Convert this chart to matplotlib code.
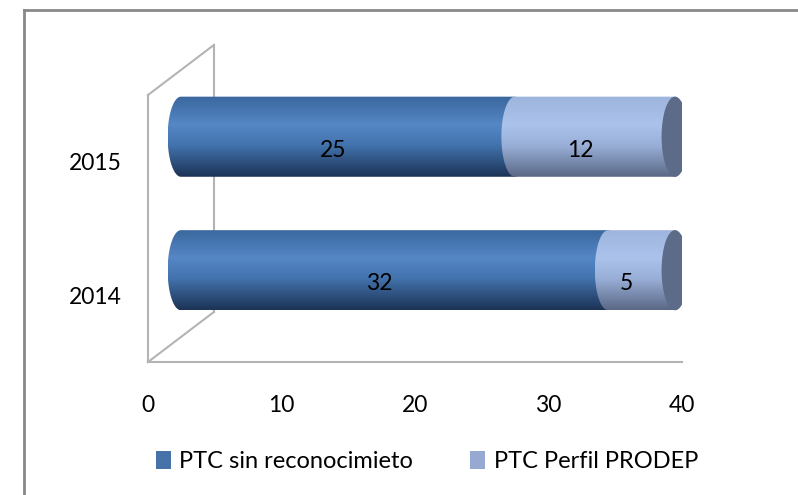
import numpy as np
import matplotlib
matplotlib.use("Agg")
import matplotlib.pyplot as plt
from matplotlib.patches import Polygon, Ellipse, Patch
from matplotlib.colors import LinearSegmentedColormap
from matplotlib.lines import Line2D

# data
years = ["2014", "2015"]
sin_reconocimiento = [32, 25]
perfil_prodep = [5, 12]
series_names = ["PTC sin reconocimieto", "PTC Perfil PRODEP"]
x_ticks = [0, 10, 20, 30, 40]

plt.rcParams['font.family'] = ['Lato', 'DejaVu Sans']

# 3d look settings (data units)
depth_x = 4.94
depth_y = 0.375
bar_h = 0.6
cap_w = 1.0
wall_color = "#b4b4b4"

dark_cmap = LinearSegmentedColormap.from_list(
    "dark", [(0, "#3a679d"), (0.35, "#5587c6"), (0.6, "#4374ae"), (1, "#1c3356")])
light_cmap = LinearSegmentedColormap.from_list(
    "light", [(0, "#9db4dd"), (0.35, "#abc3ec"), (0.62, "#98aed6"), (1, "#5a6886")])
cap_color = "#5c6b87"


def body(x0, x1, yc):
    t = np.linspace(np.pi / 2, 3 * np.pi / 2, 60)
    left = np.column_stack([x0 + cap_w * np.cos(t), yc + bar_h / 2 * np.sin(t)])
    t2 = np.linspace(-np.pi / 2, np.pi / 2, 60)
    right = np.column_stack([x1 + cap_w * np.cos(t2), yc + bar_h / 2 * np.sin(t2)])
    return Polygon(np.vstack([left, right]), closed=True, facecolor="none", edgecolor="none")


def cylinder(ax, x0, x1, yc, cmap, z):
    patch = body(x0, x1, yc)
    ax.add_patch(patch)
    grad = cmap(np.linspace(0, 1, 200))[:, None, :3]
    im = ax.imshow(grad, extent=(x0 - cap_w, x1 + cap_w, yc - bar_h / 2, yc + bar_h / 2),
                   origin="upper", aspect="auto", zorder=z, interpolation="bilinear")
    im.set_clip_path(patch)


fig = plt.figure(figsize=(7.98, 4.95), dpi=100)
ax = fig.add_axes([148 / 798, 133 / 495, 534 / 798, 267 / 495])

# walls
ax.plot([0, depth_x], [1.5, 1.5 + depth_y], color=wall_color, lw=1.5, clip_on=False, zorder=1)
ax.plot([depth_x, depth_x], [1.5 + depth_y, -0.5 + depth_y], color=wall_color, lw=1.5, clip_on=False, zorder=1)
ax.plot([0, depth_x], [-0.5, -0.5 + depth_y], color=wall_color, lw=1.5, clip_on=False, zorder=1)

ypos = np.arange(len(years))
mid_x = depth_x / 2
mid_y = depth_y / 2
for i, y in enumerate(ypos):
    yc = y + mid_y
    a = sin_reconocimiento[i]
    b = perfil_prodep[i]
    cylinder(ax, mid_x, mid_x + a, yc, dark_cmap, 3)
    cylinder(ax, mid_x + a, mid_x + a + b, yc, light_cmap, 4)
    ax.add_patch(Ellipse((mid_x + a + b, yc), 2 * cap_w, bar_h, facecolor=cap_color,
                         edgecolor="none", zorder=5))
    ax.text(a / 2 + 1.36, y + 0.085, str(a), ha="center", va="center", fontsize=16.5, zorder=6)
    ax.text(a + b / 2 + 1.36, y + 0.085, str(b), ha="center", va="center", fontsize=16.5, zorder=6)

ax.set_xlim(0, 40)
ax.set_ylim(-0.5, 1.5)
ax.set_xticks(x_ticks)
ax.set_yticks(ypos)
ax.set_yticklabels(years)
ax.tick_params(axis="x", length=0, pad=24, labelsize=16.5)
ax.tick_params(axis="y", length=0, pad=19, labelsize=16.5)
for s in ["top", "right"]:
    ax.spines[s].set_visible(False)
for s in ["left", "bottom"]:
    ax.spines[s].set_color(wall_color)
    ax.spines[s].set_linewidth(1.5)
ax.spines["left"].set_zorder(1)

handles = [Patch(facecolor="#4672a8", label=series_names[0]),
           Patch(facecolor="#95a9d3", label=series_names[1])]
fig.legend(handles=handles, loc="center", bbox_to_anchor=(0.535, 0.067), ncol=2,
           frameon=False, fontsize=17, handlelength=0.65, handleheight=0.8,
           handletextpad=0.35, columnspacing=2.4)

# chart border
fig.add_artist(Line2D([23.5 / 798, 23.5 / 798], [0, 1 - 9.5 / 495], color="#888888", lw=2))
fig.add_artist(Line2D([23.5 / 798, 1], [1 - 9.5 / 495, 1 - 9.5 / 495], color="#888888", lw=2))

fig.savefig("out.png", dpi=100)
